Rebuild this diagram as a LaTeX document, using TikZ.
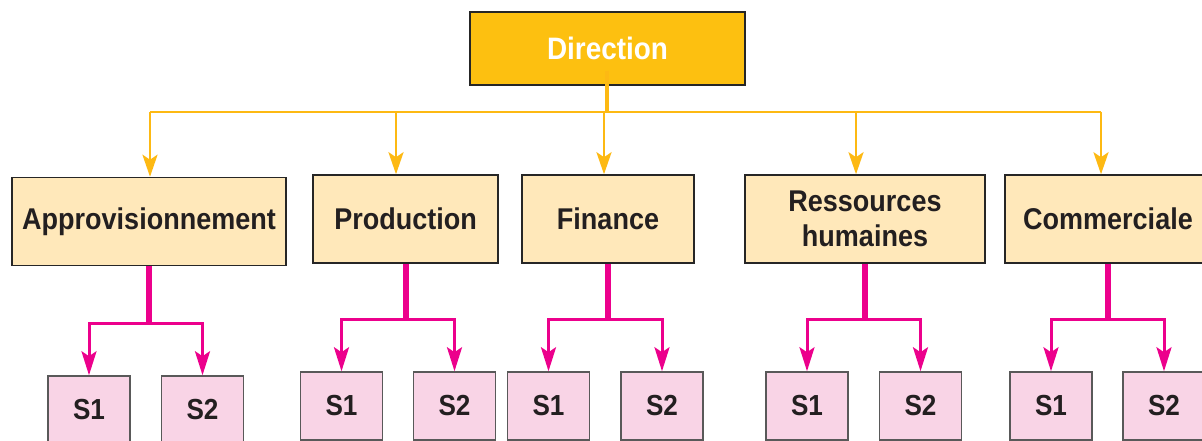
\documentclass[tikz,border=0pt]{standalone}
\usepackage{fontspec}
\setmainfont[FakeStretch=0.9]{Liberation Sans}
\usepackage{xcolor}
\usetikzlibrary{
    arrows.meta,
    calc,
    positioning
}
\definecolor{dirgold}{HTML}{FDC010}
\definecolor{deptfill}{HTML}{FFE8BA}
\definecolor{subfill}{HTML}{F9D4E6}
\definecolor{linkorange}{HTML}{FDB913}
\definecolor{linkpink}{HTML}{EC008C}
\definecolor{textdark}{HTML}{231F20}
\tikzset{
    dirbox/.style={draw=black!85, line width=1.5pt, fill=dirgold, minimum width=275pt, minimum height=73pt, text=white, font=\bfseries\fontsize{31}{36}\selectfont},
    deptbox/.style={draw=black!85, line width=1.5pt, fill=deptfill, minimum height=88pt, text=textdark, align=center, font=\bfseries\fontsize{30}{35}\selectfont},
    subbox/.style={draw=black!65, line width=1.5pt, fill=subfill, minimum width=82pt, minimum height=68pt, text=textdark, font=\bfseries\fontsize{29}{34}\selectfont},
    trunk/.style={linkorange, line width=4.3pt},
    orangeline/.style={linkorange, line width=2.7pt},
    orangelink/.style={linkorange, line width=2.7pt, -{Stealth[length=22pt,width=15pt,inset=5pt]}},
    pinktrunk/.style={linkpink, line width=6pt},
    pinklink/.style={linkpink, line width=3pt, -{Stealth[length=24pt,width=15pt,inset=5pt]}}
}
\begin{document}
\begin{tikzpicture}[x=1pt, y=-1pt]
                                \useasboundingbox (0, 0) rectangle (1202, 441);
                                \fill[white] (0, 0) rectangle (1202, 441);
                                \clip (0, 0) rectangle (1202, 441);
                                % top
                                \node[dirbox] (direction) at (607.5, 48.5) {Direction};
                                % departments
                                \node[deptbox, minimum width=274pt] (approv) at (149, 221.5) {Approvisionnement};
                                \node[deptbox, minimum width=185pt] (prod) at (405.5, 219) {Production};
                                \node[deptbox, minimum width=172pt] (fin) at (608, 219) {Finance};
                                \node[deptbox, minimum width=240pt] (rh) at (865, 219) {Ressources\\humaines};
                                \node[deptbox, minimum width=206pt] (com) at (1108, 219) {Commerciale};
                                % services
                                \foreach \n/\a/\b/\y in {approv/89/202.5/410, prod/341.5/454.5/406, fin/548.5/662/406, rh/807/920.5/406, com/1051/1164/406} {
                                    \node[subbox] (\n-s1) at (\a, \y) {S1};
                                    \node[subbox] (\n-s2) at (\b, \y) {S2};
                                }
                                % orange links
                                \coordinate (bus) at (607, 112);
                                \draw[trunk] ([yshift=15pt]direction.south -| bus) -- (bus);
                                \draw[orangeline] (150, 112) -- (1101, 112);
                                \foreach \n/\x in {approv/150, prod/396, fin/604, rh/856, com/1101} {
                                    \coordinate (b\n) at (\x, 112);
                                    \draw[orangelink] (b\n) -- (b\n |- \n.north);
                                }
                                % pink links
                                \foreach \n in {approv, prod, fin, rh, com} {
                                    \coordinate (j\n) at ([yshift=52pt]\n-s1.north);
                                    \draw[pinktrunk] (\n.south) -- (\n.south |- j\n);
                                    \draw[pinklink] (\n.south |- j\n) -| (\n-s1.north);
                                    \draw[pinklink] (\n.south |- j\n) -| (\n-s2.north);
                                }
                            \end{tikzpicture}
\end{document}
